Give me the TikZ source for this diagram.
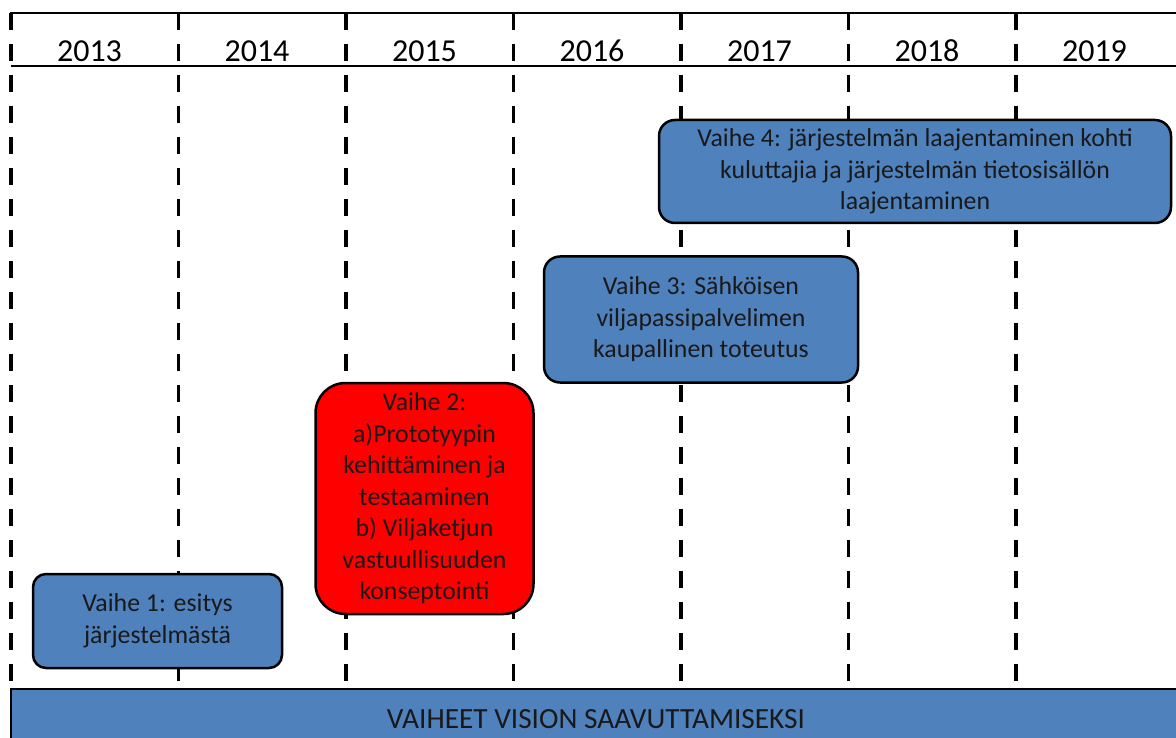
\documentclass[tikz,border=0pt]{standalone}
\usepackage{fontspec}
\setmainfont{Carlito}
\usepackage{tikz}
\definecolor{phaseblue}{RGB}{79,129,189}

\begin{document}
\begin{tikzpicture}[x=1pt, y=-1pt,
        every node/.style={font=\fontsize{25.8}{31.5}\selectfont},
        phase/.style={draw, line width=2.5pt, fill=phaseblue, text=black!90, align=center, inner sep=0pt}]
            \clip (0,0) rectangle (1176,738);

            % years and grid
            \draw[line width=2.5pt] (10,13) -- (1176,13);
            \draw[line width=2pt] (11,66) -- (1176,66);
            \foreach \x in {11,178.5,346,513.5,681,848.5,1016}
                \draw[line width=3.5pt, dash pattern=on 17pt off 14pt] (\x,13) -- (\x,689);
            \foreach \year [count=\i from 0] in {2013,...,2019}
                \node[font=\fontsize{32}{38}\selectfont, anchor=base] (y\year) at (89.5+167.5*\i,62) {\year};

            % phases
            \node[phase, rounded corners=13pt, minimum width=249pt, minimum height=94pt] (vaihe1) at (157.5,621) {Vaihe 1: esitys\\järjestelmästä};
            \node[phase, fill=red, rounded corners=30pt, minimum width=218pt, minimum height=231pt] (vaihe2) at (424.5,498.5) {Vaihe 2:\\a)Prototyypin\\kehittäminen ja\\testaaminen\\b) Viljaketjun\\vastuullisuuden\\konseptointi};
            \node[phase, rounded corners=16pt, minimum width=314pt, minimum height=126pt] (vaihe3) at (701,319.5) {Vaihe 3: Sähköisen\\viljapassipalvelimen\\kaupallinen toteutus};
            \node[phase, rounded corners=16pt, minimum width=512pt, minimum height=103pt] (vaihe4) at (915,171.5) {Vaihe 4: järjestelmän laajentaminen kohti\\kuluttajia ja järjestelmän tietosisällön\\laajentaminen};

            % bottom bar
            \fill[phaseblue] (11,689) rectangle (1190,750);
            \draw[line width=2.5pt] (11,750) -- (11,689) -- (1190,689);
            \node[text=black!90, font=\fontsize{29.3}{35}\selectfont] (vision) at (596,719) {VAIHEET VISION SAAVUTTAMISEKSI};
\end{tikzpicture}
\end{document}
